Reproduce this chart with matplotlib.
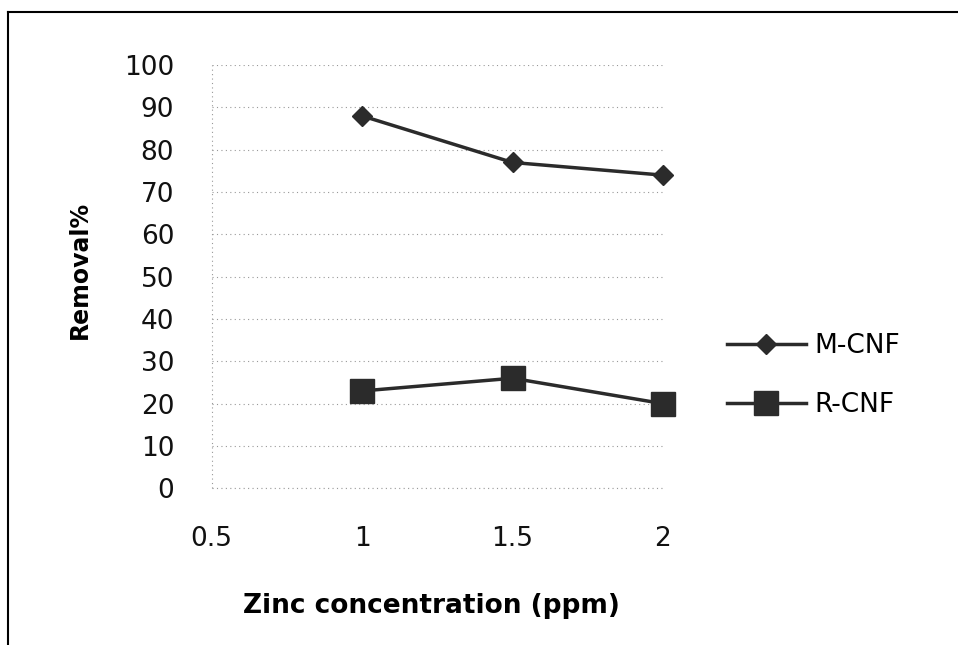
import matplotlib
matplotlib.use("Agg")
import matplotlib.pyplot as plt
from matplotlib.lines import Line2D

concentration = [1, 1.5, 2]
m_cnf = [88, 77, 74]
r_cnf = [23, 26, 20]
series_names = ["M-CNF", "R-CNF"]
x_ticks = [0.5, 1, 1.5, 2]
y_ticks = list(range(0, 101, 10))

line_color = "#2b2b2b"

fig = plt.figure(figsize=(9.58, 6.45), dpi=100)
ax = fig.add_axes([0.221, 0.243, 0.471, 0.656])

ax.plot(concentration, m_cnf, color=line_color, linewidth=2.5,
        marker="D", markersize=10, label=series_names[0], clip_on=False)
ax.plot(concentration, r_cnf, color=line_color, linewidth=2.5,
        marker="s", markersize=17, label=series_names[1], clip_on=False)

ax.set_xlim(0.5, 2)
ax.set_ylim(0, 100)
ax.set_xticks(x_ticks)
ax.set_xticklabels(["0.5", "1", "1.5", "2"])
ax.set_yticks(y_ticks)
ax.tick_params(axis="both", length=0, labelsize=19, pad=27, colors="#111111")

for s in ax.spines.values():
    s.set_visible(False)
ax.grid(axis="y", linestyle=(0, (1, 3)), color="#999999", linewidth=0.8)
ax.axhline(0, linestyle=(0, (1, 3)), color="#999999", linewidth=0.8, clip_on=False)
ax.axvline(0.5, linestyle=(0, (1, 3)), color="#999999", linewidth=0.8, clip_on=False)

ax.legend(loc="center left", bbox_to_anchor=(0.745, 0.418),
          bbox_transform=fig.transFigure, frameon=False, fontsize=19,
          handlelength=3.0, handletextpad=0.3, labelspacing=1.25, borderpad=0)

fig.text(80 / 958, 1 - 270 / 645, "Removal%", rotation=90, ha="center",
         va="center", fontsize=17, fontweight="bold")
fig.text(431 / 958, 1 - 606 / 645, "Zinc concentration (ppm)", ha="center",
         va="center", fontsize=19, fontweight="bold")

# page border (left and top edges)
fig.add_artist(Line2D([8 / 958, 8 / 958], [0, 1 - 12 / 645],
                      transform=fig.transFigure, color="black", linewidth=1.5))
fig.add_artist(Line2D([8 / 958, 1], [1 - 12 / 645, 1 - 12 / 645],
                      transform=fig.transFigure, color="black", linewidth=1.5))

fig.savefig("out.png", dpi=100)
